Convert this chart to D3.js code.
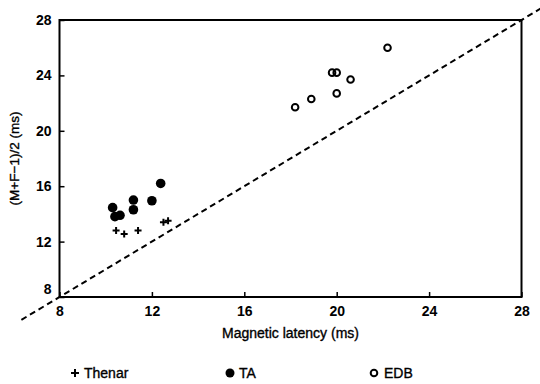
<!DOCTYPE html>
<html>
<head>
<meta charset="utf-8">
<script src="https://cdn.jsdelivr.net/npm/d3@7"></script>
<style>
  body { margin: 0; background: #fff; }
  text { font-family: "Liberation Sans", Arial, sans-serif; fill: #000; }
  .label { stroke: #000; stroke-width: 0.35px; }
</style>
</head>
<body>
<div id="myDiagram"></div>
<script>
// data (ms)
var thenarX = [10.45, 10.8, 11.4, 12.5, 12.7];
var thenarY = [12.8, 12.55, 12.8, 13.4, 13.5];
var taX = [10.3, 10.4, 10.62, 11.2, 11.2, 12.0, 12.38];
var taY = [14.45, 13.8, 13.9, 15.0, 14.3, 14.95, 16.2];
var edbX = [18.2, 18.9, 19.8, 20.0, 20.0, 20.6, 22.2];
var edbY = [21.7, 22.3, 24.2, 24.2, 22.7, 23.7, 26.0];
var ticks = [8, 12, 16, 20, 24, 28];
var identity = [6.35, 29.0];
var legendNames = ["Thenar", "TA", "EDB"];

var width = 540, height = 384;

var svg = d3.select('#myDiagram')
            .append('svg')
            .attr('width', width)
            .attr('height', height)
            .style('background', '#fff');

var x = d3.scaleLinear().domain([8, 28]).range([59.5, 521.5]);
var y = d3.scaleLinear().domain([8, 28]).range([297, 20]);

// frame
svg.append("rect")
    .attr("x", x(8))
    .attr("y", y(28))
    .attr("width", x(28) - x(8))
    .attr("height", y(8) - y(28))
    .style("fill", "none")
    .style("stroke", "#000")
    .style("stroke-width", 2);

// x axis, ticks pointing inward
var gx = svg.append("g")
    .attr("transform", "translate(0," + y(8) + ")")
    .call(d3.axisBottom(x).tickValues(ticks).tickSize(-5).tickPadding(9));
gx.select(".domain").remove();
gx.selectAll("line").style("stroke", "#000").style("stroke-width", 1.5);
gx.selectAll("text")
    .style("font-size", "14px")
    .style("font-weight", "bold");

// y axis
var gy = svg.append("g")
    .attr("transform", "translate(" + x(8) + ",0)")
    .call(d3.axisLeft(y).tickValues(ticks).tickSize(-5).tickPadding(8));
gy.select(".domain").remove();
gy.selectAll("line").style("stroke", "#000").style("stroke-width", 1.5);
gy.selectAll("text")
    .style("font-size", "14px")
    .style("font-weight", "bold");
// lift the bottom "8" so it clears the x label
gy.selectAll(".tick").filter(function(d){ return d === 8; })
    .select("text").attr("y", -8);

// line of identity
svg.append("line")
    .attr("x1", x(identity[0]))
    .attr("y1", y(identity[0]))
    .attr("x2", x(identity[1]))
    .attr("y2", y(identity[1]))
    .style("stroke", "#000")
    .style("stroke-width", 2)
    .style("stroke-dasharray", "6,4");

// Thenar: plus signs
function plusPath(cx, cy, s) {
    return "M" + (cx - s) + "," + cy + "H" + (cx + s) + "M" + cx + "," + (cy - s) + "V" + (cy + s);
}
svg.selectAll(".thenar")
    .data(thenarX)
    .enter()
    .append("path")
      .attr("class", "thenar")
      .attr("d", function(d, i){ return plusPath(x(d), y(thenarY[i]), 3.5); })
      .style("stroke", "#000")
      .style("stroke-width", 2)
      .style("fill", "none");

// TA: filled circles
svg.selectAll(".ta")
    .data(taX)
    .enter()
    .append("circle")
      .attr("class", "ta")
      .attr("cx", function(d){ return x(d); })
      .attr("cy", function(d, i){ return y(taY[i]); })
      .attr("r", 4.8)
      .style("fill", "#000");

// EDB: open circles
svg.selectAll(".edb")
    .data(edbX)
    .enter()
    .append("circle")
      .attr("class", "edb")
      .attr("cx", function(d){ return x(d); })
      .attr("cy", function(d, i){ return y(edbY[i]); })
      .attr("r", 3.3)
      .style("fill", "none")
      .style("stroke", "#000")
      .style("stroke-width", 2);

// axis titles
svg.append("text")
    .attr("class", "label")
    .attr("x", (x(8) + x(28)) / 2)
    .attr("y", 338)
    .attr("text-anchor", "middle")
    .style("font-size", "14px")
    .text("Magnetic latency (ms)");

svg.append("text")
    .attr("class", "label")
    .attr("transform", "translate(19," + (y(8) + y(28)) / 2 + ") rotate(-90)")
    .attr("text-anchor", "middle")
    .style("font-size", "13.5px")
    .text("(M+F\u22121)/2 (ms)");

// legend
var legY = 373;
svg.append("path")
    .attr("d", plusPath(75, legY, 4))
    .style("stroke", "#000")
    .style("stroke-width", 2);
svg.append("circle")
    .attr("cx", 230).attr("cy", legY).attr("r", 4.5)
    .style("fill", "#000");
svg.append("circle")
    .attr("cx", 374).attr("cy", legY).attr("r", 3.3)
    .style("fill", "none")
    .style("stroke", "#000")
    .style("stroke-width", 2);

var legX = [84, 239, 384];
svg.selectAll(".legend")
    .data(legendNames)
    .enter()
    .append("text")
      .attr("class", "legend label")
      .attr("x", function(d, i){ return legX[i]; })
      .attr("y", legY + 5)
      .style("font-size", "14px")
      .text(function(d){ return d; });
</script>
</body>
</html>
